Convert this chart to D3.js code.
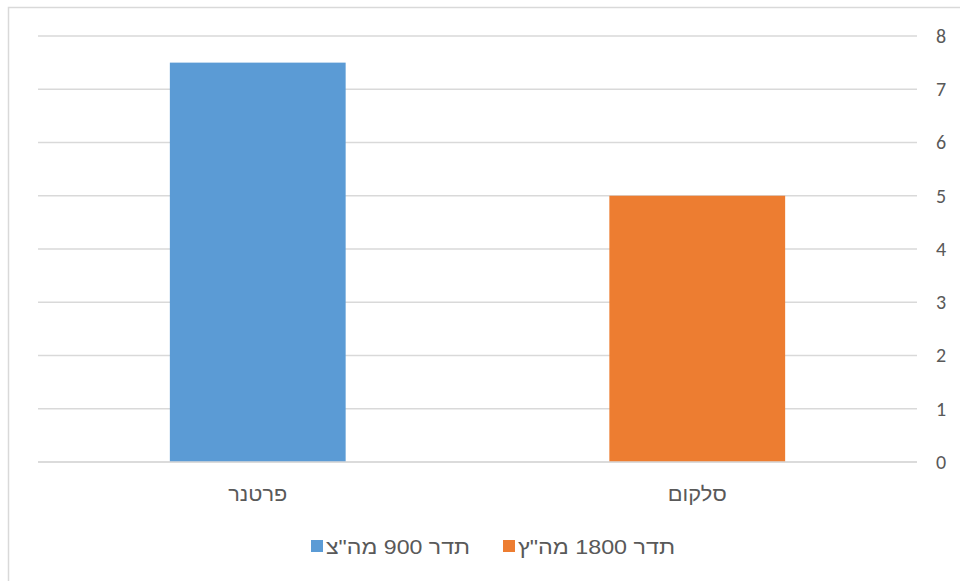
<!DOCTYPE html>
<html>
<head>
<meta charset="utf-8">
<script src="https://cdn.jsdelivr.net/npm/d3@7"></script>
<style>
  html, body { margin: 0; padding: 0; background: #fff; }
  svg { display: block; }
</style>
</head>
<body>
<svg id="chart" width="960" height="581"></svg>
<script>
const categories = ["פרטנר", "סלקום"];
const values = [7.5, 5];
const seriesNames = ["תדר 900 מה\"צ", "תדר 1800 מה\"ץ"];
const colors = ["#5B9BD5", "#ED7D31"];
const yTicks = [0, 1, 2, 3, 4, 5, 6, 7, 8];

(function () {
const svg = d3.select("#chart");
const W = 960, H = 581;
const mLeft = 38, mRight = 917, mTop = 36, mBottom = 462;
const textColor = "#595959";
const font = "'Liberation Sans', Arial, sans-serif";

// outer border
svg.append("rect")
  .attr("x", 8.5).attr("y", 7.5)
  .attr("width", W).attr("height", H)
  .attr("fill", "#fff").attr("stroke", "#d9d9d9").attr("stroke-width", 1.5);

const x = d3.scaleBand().domain(categories).range([mLeft, mRight]).paddingInner(0.6).paddingOuter(0.3);
const y = d3.scaleLinear().domain([0, 8]).range([mBottom, mTop]);

// gridlines
svg.append("g").selectAll("line").data(yTicks).join("line")
  .attr("x1", mLeft).attr("x2", mRight)
  .attr("y1", d => y(d)).attr("y2", d => y(d))
  .attr("stroke", "#d9d9d9").attr("stroke-width", 1.5);

// y axis labels via d3 axis
const yAxis = d3.axisRight(y).tickValues(yTicks).tickSize(0).tickPadding(0).tickFormat(d3.format("d"));
const gy = svg.append("g").attr("transform", `translate(${mRight + 19},0)`).call(yAxis);
gy.select(".domain").remove();
gy.selectAll("text")
  .attr("font-family", "Carlito, 'Open Sans', sans-serif")
  .attr("font-size", 20).attr("fill", textColor);

// bars
svg.append("g").selectAll("rect").data(categories).join("rect")
  .attr("x", d => x(d))
  .attr("width", x.bandwidth())
  .attr("y", (d, i) => y(values[i]))
  .attr("height", (d, i) => y(0) - y(values[i]))
  .attr("fill", (d, i) => colors[i]);

// redraw baseline over bars
svg.append("line")
  .attr("x1", mLeft).attr("x2", mRight)
  .attr("y1", y(0)).attr("y2", y(0))
  .attr("stroke", "#d9d9d9").attr("stroke-width", 1.5);

// category labels
const xAxis = d3.axisBottom(x).tickSize(0).tickPadding(0);
const gx = svg.append("g").attr("transform", `translate(0,${mBottom})`).call(xAxis);
gx.select(".domain").remove();
gx.selectAll("text")
  .attr("dy", null).attr("y", 39)
  .attr("font-family", font).attr("font-size", 20).attr("fill", textColor)
  .attr("direction", "rtl")
  .attr("textLength", 59).attr("lengthAdjust", "spacingAndGlyphs");

// legend
const legendItems = [
  { name: seriesNames[0], color: colors[0], sx: 311, tx: 326, tw: 144 },
  { name: seriesNames[1], color: colors[1], sx: 503, tx: 518, tw: 157 }
];
const lg = svg.append("g");
legendItems.forEach(it => {
  lg.append("rect").attr("x", it.sx).attr("y", 540).attr("width", 12).attr("height", 12).attr("fill", it.color);
  lg.append("text")
    .attr("x", it.tx).attr("y", 554)
    .attr("text-anchor", "start")
    .attr("font-family", font).attr("font-size", 20).attr("fill", textColor)
    .attr("textLength", it.tw).attr("lengthAdjust", "spacingAndGlyphs")
    .text(it.name);
});
})();
</script>
</body>
</html>
